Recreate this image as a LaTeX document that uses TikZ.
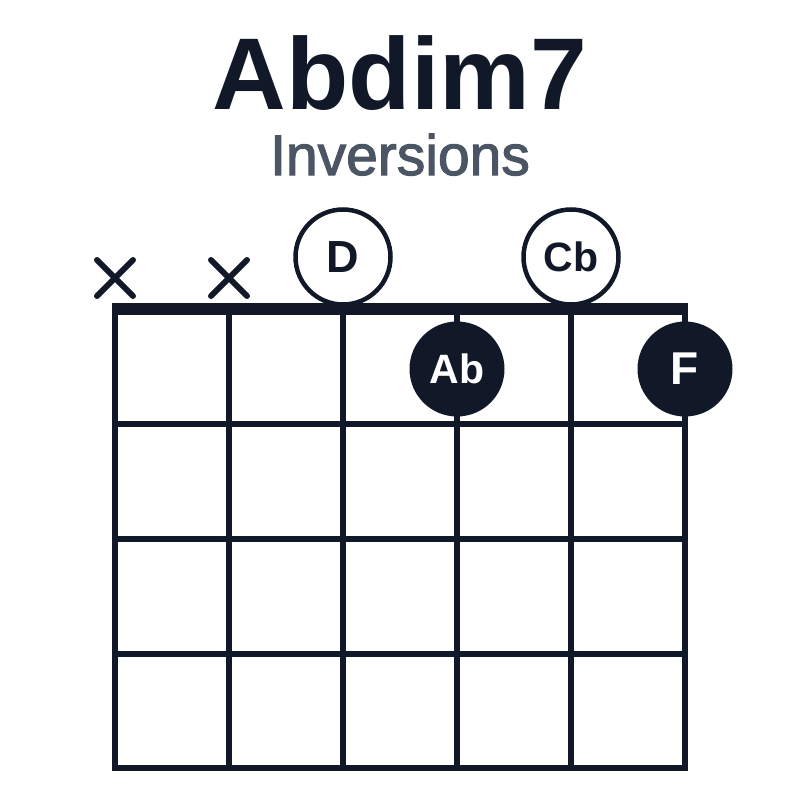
\documentclass[tikz,border=0pt]{standalone}
\usepackage{fontspec}
\setmainfont{Liberation Sans}
\newfontfamily\mediumfont[FakeBold=2]{Liberation Sans}
\usetikzlibrary{positioning}
\definecolor{ink}{HTML}{111827}
\definecolor{subink}{HTML}{4B5563}
\tikzstyle{opennote} = [circle, draw=ink, line width=4.5pt, fill=white, minimum size=95pt, inner sep=0pt, text=ink]
\tikzstyle{fretnote} = [circle, fill=ink, minimum size=95pt, inner sep=0pt, text=white]
\tikzstyle{muted} = [line width=6pt, line cap=round, draw=ink]

\begin{document}
\begin{tikzpicture}[x=1pt, y=-1pt]
        \useasboundingbox (0,0) rectangle (800,800);

        % Title
        \node (title) [anchor=base, text=ink, font=\bfseries\fontsize{102}{110}\selectfont] at (400,109) {Abdim7};
        \node (subtitle) [anchor=base, text=subink, font=\mediumfont\fontsize{57}{60}\selectfont] at (400,175) {Inversions};

        % Frets
        \foreach \y in {424,539,654,768}
            \draw [ink, line width=6.5pt] (112,\y) -- (688,\y);

        % Strings
        \foreach \x in {115,229,343,457,571,685}
            \draw [ink, line width=6.5pt] (\x,309) -- (\x,771);

        % Nut
        \draw [ink, line width=12pt] (112,309) -- (688,309);

        % Muted strings
        \foreach \x in {115,229}
            \draw [muted] (\x-18,260) -- (\x+18,296) (\x-18,296) -- (\x+18,260);

        % Open notes
        \node (noteD) [opennote, font=\bfseries\fontsize{45}{45}\selectfont] at (343,257) {D};
        \node (noteCb) [opennote, font=\bfseries\fontsize{41}{41}\selectfont] at (571,257) {Cb};

        % Fretted notes
        \node (noteAb) [fretnote, font=\bfseries\fontsize{41}{41}\selectfont] at (457,369) {Ab};
        \node (noteF) [fretnote, font=\bfseries\fontsize{46}{46}\selectfont] at (685,369) {F};
    \end{tikzpicture}
\end{document}
